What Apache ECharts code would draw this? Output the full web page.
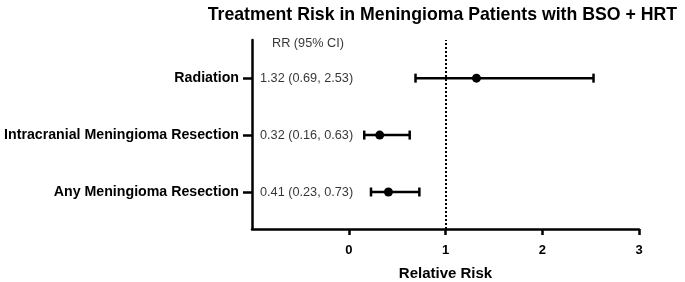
<!DOCTYPE html>
<html>
<head>
<meta charset="utf-8">
<script src="https://cdn.jsdelivr.net/npm/echarts@6/dist/echarts.min.js"></script>
<style>
  html, body { margin: 0; padding: 0; background: #fff; }
  #main { width: 685px; height: 282px; }
</style>
</head>
<body>
<div id="main"></div>
<script>
// outcomes, top to bottom
var outcomes = ['Radiation', 'Intracranial Meningioma Resection', 'Any Meningioma Resection'];
var rr = [1.32, 0.32, 0.41];
var ciLow = [0.69, 0.16, 0.23];
var ciHigh = [2.53, 0.63, 0.73];
var rowPos = [3, 2, 1];
var xTicks = [0, 1, 2, 3];

var font = 'Liberation Sans, Arial, sans-serif';
var myChart = echarts.init(document.getElementById('main'));

var barData = [];
var textData = [];
for (var i = 0; i < outcomes.length; i++) {
    barData.push([ciLow[i], ciHigh[i], rr[i], rowPos[i]]);
    textData.push({
        value: [-1, rowPos[i]],
        label: { formatter: rr[i].toFixed(2) + ' (' + ciLow[i].toFixed(2) + ', ' + ciHigh[i].toFixed(2) + ')' }
    });
}
textData.push({ value: [-1, 3.6], label: { formatter: 'RR (95% CI)', distance: 20 } });

option = {
    animation: false,
    backgroundColor: '#fff',
    title: {
        text: 'Treatment Risk in Meningioma Patients with BSO + HRT',
        right: 3,
        top: 1,
        textStyle: { fontFamily: font, fontSize: 17.7, fontWeight: 'bold', color: '#000' }
    },
    grid: { left: 252, right: 46, top: 40, bottom: 53, outerBoundsMode: 'none', containLabel: false },
    xAxis: {
        type: 'value',
        min: -1,
        max: 3,
        interval: 1,
        name: 'Relative Risk',
        nameLocation: 'middle',
        nameGap: 37,
        nameTextStyle: { fontFamily: font, fontSize: 15, fontWeight: 'bold', color: '#000' },
        axisLine: { show: true, onZero: false, lineStyle: { color: '#000', width: 2.5 } },
        axisTick: { show: true, customValues: xTicks, length: 6, lineStyle: { color: '#000', width: 2.5 } },
        axisLabel: { customValues: xTicks, margin: 15, fontFamily: font, fontSize: 13, fontWeight: 'bold', color: '#000' },
        splitLine: { show: false }
    },
    yAxis: {
        type: 'value',
        min: 0.35,
        max: 3.67,
        axisLine: { show: true, onZero: false, lineStyle: { color: '#000', width: 2.5 } },
        axisTick: { show: true, customValues: rowPos, length: 9, lineStyle: { color: '#000', width: 2.5 } },
        axisLabel: {
            customValues: rowPos,
            margin: 13,
            fontFamily: font, fontSize: 14.2, fontWeight: 'bold', color: '#000',
            formatter: function (v) { return outcomes[rowPos.indexOf(v)]; }
        },
        splitLine: { show: false }
    },
    series: [
        {
            type: 'custom',
            data: barData,
            encode: { x: [0, 1, 2], y: 3 },
            renderItem: function (params, api) {
                var y = api.value(3);
                var a = api.coord([api.value(0), y]);
                var b = api.coord([api.value(1), y]);
                var c = api.coord([api.value(2), y]);
                var cap = 4.5;
                var st = { stroke: '#000', lineWidth: 2.5 };
                return {
                    type: 'group',
                    children: [
                        { type: 'line', shape: { x1: a[0], y1: a[1], x2: b[0], y2: b[1] }, style: st },
                        { type: 'line', shape: { x1: a[0], y1: a[1] - cap, x2: a[0], y2: a[1] + cap }, style: st },
                        { type: 'line', shape: { x1: b[0], y1: b[1] - cap, x2: b[0], y2: b[1] + cap }, style: st },
                        { type: 'circle', shape: { cx: c[0], cy: c[1], r: 4.5 }, style: { fill: '#000' } }
                    ]
                };
            },
            markLine: {
                silent: true,
                symbol: 'none',
                label: { show: false },
                lineStyle: { color: '#000', type: [2, 2], width: 2 },
                data: [{ xAxis: 1 }]
            }
        },
        {
            type: 'scatter',
            symbolSize: 0,
            data: textData,
            label: {
                show: true,
                position: 'right',
                distance: 8,
                fontFamily: font,
                fontSize: 12.7,
                color: '#000'
            }
        }
    ]
};
myChart.setOption(option);
</script>
</body>
</html>
